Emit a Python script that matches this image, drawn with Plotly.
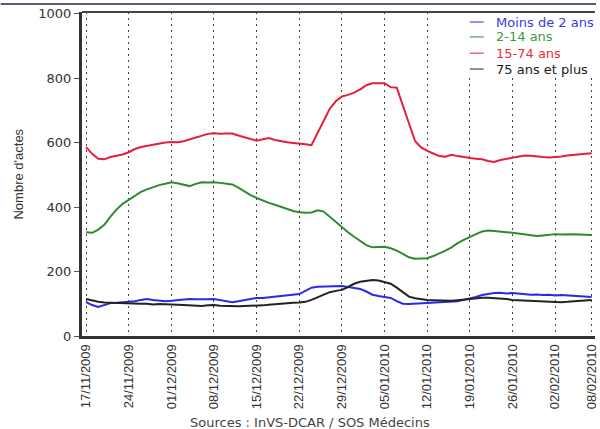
import pandas as pd
import plotly.graph_objects as go

# Daily consultations (SOS Médecins), 17/11/2009 -> 08/02/2010
start_date = "2009-11-17"
n_days = 84
dates = pd.date_range(start_date, periods=n_days, freq="D")

moins_2_ans = [105, 96, 90, 95, 102, 103, 104, 105, 108, 112, 115, 112, 110, 108, 109,
               111, 113, 115, 114, 113, 114, 115, 112, 108, 105, 108, 112, 116, 118, 118,
               120, 122, 124, 125, 127, 130, 140, 150, 153, 154, 155, 156, 155, 152, 149,
               146, 138, 128, 124, 122, 118, 108, 100, 99, 100, 101, 102, 103, 104, 104,
               105, 108, 112, 116, 121, 127, 131, 133, 134, 132, 133, 131, 130, 128, 129,
               127, 128, 126, 127, 126, 125, 124, 122, 121]

ans_2_14 = [322, 320, 330, 345, 370, 392, 410, 422, 435, 447, 455, 462, 468, 472, 477,
            474, 470, 465, 472, 477, 476, 477, 475, 472, 470, 460, 448, 437, 428, 420,
            413, 407, 400, 393, 388, 384, 382, 383, 390, 386, 370, 352, 335, 322, 308,
            295, 282, 275, 277, 277, 272, 265, 255, 244, 240, 240, 241, 248, 256, 265,
            275, 288, 298, 308, 316, 324, 327, 326, 325, 322, 320, 318, 315, 312, 310,
            312, 314, 316, 315, 316, 316, 315, 314, 313]

ans_15_74 = [586, 565, 550, 548, 555, 558, 563, 570, 580, 586, 590, 594, 598, 600, 602,
             601, 604, 610, 616, 622, 627, 629, 627, 628, 628, 622, 617, 610, 606, 610,
             614, 608, 604, 601, 599, 598, 595, 592, 630, 672, 705, 728, 743, 748, 755,
             765, 778, 784, 785, 784, 772, 770, 715, 660, 605, 585, 574, 566, 558, 556,
             562, 558, 554, 552, 550, 548, 543, 540, 546, 549, 552, 556, 560, 559, 556,
             555, 554, 555, 557, 560, 561, 563, 565, 567]

ans_75_plus = [115, 110, 106, 104, 103, 102, 102, 102, 101, 100, 100, 98, 99, 99, 99,
               97, 96, 95, 94, 93, 95, 96, 94, 93, 93, 92, 93, 93, 93, 95,
               97, 99, 101, 102, 103, 104, 106, 112, 120, 129, 136, 140, 143, 152, 162,
               168, 172, 174, 172, 168, 162, 150, 135, 122, 117, 114, 112, 111, 110, 109,
               109, 111, 113, 116, 118, 119, 119, 118, 118, 115, 112, 111, 110, 110, 109,
               109, 107, 106, 105, 106, 107, 109, 111, 112]

series_names = ["Moins de 2 ans", "2-14 ans", "15-74 ans", "75 ans et plus"]
series_values = [moins_2_ans, ans_2_14, ans_15_74, ans_75_plus]
series_colors = ["#2a2ae6", "#2e8a32", "#e2203a", "#222222"]
label_colors = ["#3b3bdc", "#3f9a3f", "#e8303c", "#222222"]

tick_dates = ["2009-11-17", "2009-11-24", "2009-12-01", "2009-12-08", "2009-12-15",
              "2009-12-22", "2009-12-29", "2010-01-05", "2010-01-12", "2010-01-19",
              "2010-01-26", "2010-02-02", "2010-02-08"]
y_ticks = [0, 200, 400, 600, 800, 1000]

fig = go.Figure()
for name, vals, col in zip(series_names, series_values, series_colors):
    fig.add_trace(go.Scatter(x=dates, y=vals, mode="lines", name=name,
                             line=dict(color=col, width=2), showlegend=False))

# Legend box: white background hiding the grid behind it
fig.add_shape(type="rect", xref="paper", yref="paper", x0=0.735, x1=1.0,
              y0=0.802, y1=0.997, layer="above",
              fillcolor="white", line=dict(width=0))

# Hand-placed legend: short line + coloured label
legend_y = [0.969, 0.923, 0.873, 0.824]
for name, col, lcol, yy in zip(series_names, series_colors, label_colors, legend_y):
    fig.add_shape(type="line", xref="paper", yref="paper", x0=0.756, x1=0.783,
                  y0=yy, y1=yy, layer="above", line=dict(color=col, width=1))
    fig.add_annotation(x=0.8046, y=yy, xref="paper", yref="paper", text=name,
                       showarrow=False, xanchor="left", yanchor="middle", borderpad=0,
                       font=dict(family="DejaVu Sans", size=13, color=lcol))

# Frame lines at the top
fig.add_shape(type="line", xref="paper", yref="paper", x0=0, x1=1, y0=1, y1=1,
              layer="above", line=dict(color="#444444", width=2))
fig.add_shape(type="line", xref="paper", yref="paper", x0=-0.1586, x1=1.002,
              y0=1.0247, y1=1.0247, line=dict(color="#5d5a73", width=2))

fig.add_annotation(x=-0.1257, y=0.5, xref="paper", yref="paper", text="Nombre d'actes",
                   textangle=-90, showarrow=False, xanchor="center", yanchor="middle",
                   font=dict(family="Liberation Sans", size=13, color="#333333"))
fig.add_annotation(x=0.444, y=-0.2685, xref="paper", yref="paper",
                   text="Sources : InVS-DCAR / SOS Médecins", showarrow=False,
                   xanchor="center", yanchor="middle",
                   font=dict(family="DejaVu Sans", size=13, color="#444444"))

fig.update_layout(
    width=600, height=429,
    margin=dict(l=82, r=1, t=12, b=93),
    paper_bgcolor="white", plot_bgcolor="white",
    showlegend=False,
)
fig.update_xaxes(
    type="date",
    range=["2009-11-16 08:00", "2010-02-08 13:00"],
    tickvals=tick_dates, tickformat="%d/%m/%Y", tickangle=-90,
    tickfont=dict(family="Liberation Sans", size=13, color="#333333"),
    ticklabeloverflow="allow",
    showgrid=True, gridcolor="#444444", gridwidth=1.3, griddash="2px,4px",
    showline=True, linecolor="#333333", linewidth=3,
    ticks="", zeroline=False,
)
fig.update_yaxes(
    range=[0, 1005], tickvals=y_ticks,
    tickfont=dict(family="DejaVu Sans", size=13, color="#333333"),
    showgrid=False, zeroline=False,
    showline=True, linecolor="#333333", linewidth=3,
    ticks="outside", ticklen=5, tickcolor="#555555", tickwidth=1,
)

fig.write_html("out.html")
